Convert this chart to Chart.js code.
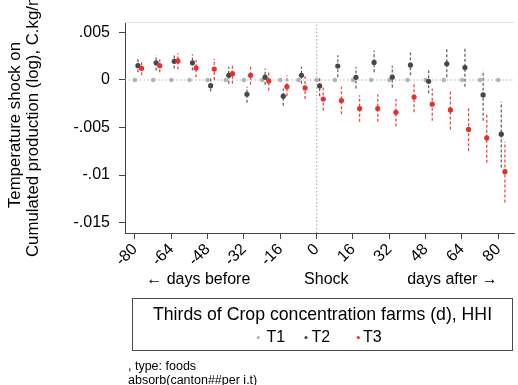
<!DOCTYPE html>
<html><head><meta charset="utf-8">
<script src="https://cdn.jsdelivr.net/npm/chart.js@4"></script>
<style>html,body{margin:0;padding:0;background:#fff;}#w{width:518px;height:385px;}</style>
</head><body><div id="w"><canvas id="c" width="518" height="385"></canvas></div>
<script>
const periods = [-80,-72,-64,-56,-48,-40,-32,-24,-16,-8,0,8,16,24,32,40,48,56,64,72,80];
const t1Coef = [0,0,0,0,0,0,0,0,0,0,0,0,0,0,0,0,0,0,0,0,0];
const t2Coef = [0.0015,0.0018,0.00196,0.0018,-0.0006,0.0005,-0.0015,0.0003,-0.0017,0.0005,-0.00063,0.00147,0.00028,0.00185,0.0003,0.00157,-0.00014,0.0017,0.0013,-0.00157,-0.0057];
const t2Lo = [0.0008,0.001,0.0012,0.001,-0.0012,-0.0004,-0.0024,-0.0005,-0.0027,-0.0004,-0.0017,0.0003,-0.0009,0.0008,-0.0008,0.0005,-0.0014,0.0003,-0.0007,-0.0043,-0.0092];
const t2Hi = [0.0022,0.0026,0.0027,0.0027,0.0002,0.0014,-0.0007,0.0012,-0.0009,0.0014,0.0003,0.0026,0.0014,0.0031,0.0015,0.0029,0.0011,0.0033,0.0034,0.001,-0.0023];
const t3Coef = [0.00123,0.0015,0.002,0.00126,0.00115,0.00066,0.0005,-0.0001,-0.0007,-0.00084,-0.002,-0.00217,-0.003,-0.003,-0.0034,-0.0018,-0.00255,-0.00315,-0.0052,-0.0061,-0.00965];
const t3Lo = [0.0005,0.0008,0.0011,0.0003,0,-0.0004,-0.0005,-0.0011,-0.0017,-0.002,-0.0032,-0.0036,-0.0044,-0.0044,-0.0049,-0.0034,-0.0043,-0.0052,-0.0075,-0.0087,-0.0129];
const t3Hi = [0.0019,0.0023,0.0028,0.0021,0.0022,0.0017,0.0016,0.001,0.0005,0.0004,-0.0007,-0.0007,-0.0016,-0.0015,-0.002,-0.0002,-0.0009,-0.0012,-0.0028,-0.0035,-0.0065];
const xTicks = [-80,-64,-48,-32,-16,0,16,32,48,64,80];
const yTicks = [0.005,0,-0.005,-0.01,-0.015];
const yTickLabels = ['.005','0','-.005','-.01','-.015'];
const seriesNames = ['T1','T2','T3'];
const legendTitle = 'Thirds of Crop concentration farms (d), HHI';
const yTitle = ['Temperature shock on','Cumulated production (log), C.kg/m'];
const xNotes = ['\u2190 days before','Shock','days after \u2192'];
const footNotes = [', type: foods','absorb(canton##per i.t)'];

const COL1='#b3b3b3', COL2='#474747', COL3='#e8302a';
const OFF2=1.3, OFF3=2.9;
const XMIN=-84.4, XMAX=86.9, YMIN=-0.0161, YMAX=0.0061;
const FONT='"Liberation Sans", Arial, Helvetica, sans-serif';

function pts(coef, off){ return periods.map((p,i)=>({x:p+off,y:coef[i]})); }
function ci(lo, hi, off){ const d=[]; periods.forEach((p,i)=>{ d.push({x:p+off,y:lo[i]}); d.push({x:p+off,y:hi[i]}); d.push({x:p+off,y:null}); }); return d; }

const deco = {
  id:'deco',
  beforeDatasetsDraw(chart){
    const {ctx, chartArea:a} = chart;
    ctx.save();
    ctx.strokeStyle='#d9e4ea'; ctx.lineWidth=1;
    ctx.beginPath(); ctx.moveTo(a.left, a.top+0.5); ctx.lineTo(a.right, a.top+0.5); ctx.stroke();
    ctx.restore();
  },
  afterDraw(chart){
    const ctx = chart.ctx;
    ctx.save();
    ctx.fillStyle='#000';
    ctx.textBaseline='middle';
    // y title
    ctx.font='16.8px '+FONT;
    ctx.save(); ctx.translate(15,125); ctx.rotate(-Math.PI/2); ctx.textAlign='center'; ctx.fillText(yTitle[0],0,0); ctx.restore();
    ctx.save(); ctx.translate(33.5,257); ctx.rotate(-Math.PI/2); ctx.textAlign='left'; ctx.fillText(yTitle[1],0,0); ctx.restore();
    // x notes
    ctx.font='16px '+FONT;
    ctx.textAlign='center';
    ctx.fillText(xNotes[0],198.3,280);
    ctx.fillText(xNotes[1],326.3,280);
    ctx.fillText(xNotes[2],452.5,280);
    // legend box
    ctx.strokeStyle='#4a4a4a'; ctx.lineWidth=1;
    ctx.strokeRect(132.5,298.5,380,52);
    ctx.font='17.7px '+FONT;
    ctx.fillText(legendTitle,322.5,315.5);
    ctx.font='16px '+FONT;
    const items=[[258.3,266.5,COL1],[306,311.5,COL2],[358.3,363,COL3]];
    items.forEach((it,i)=>{
      ctx.fillStyle=it[2]; ctx.beginPath(); ctx.arc(it[0],337.5,1.6,0,Math.PI*2); ctx.fill();
      ctx.fillStyle='#000'; ctx.textAlign='left'; ctx.fillText(seriesNames[i],it[1],337.5);
    });
    // foot notes
    ctx.font='12.5px '+FONT;
    ctx.textAlign='left';
    ctx.fillText(footNotes[0],128,367);
    ctx.fillText(footNotes[1],128,380.5);
    ctx.restore();
  }
};

new Chart(document.getElementById('c'), {
  type:'scatter',
  data:{datasets:[
    {type:'line', data:[{x:XMIN,y:0},{x:XMAX,y:0}], borderColor:'#a8a8a8', borderWidth:1.2, borderDash:[1.3,2.4], pointRadius:0, order:10},
    {type:'line', data:[{x:0,y:YMIN},{x:0,y:YMAX}], borderColor:'#a8a8a8', borderWidth:1.2, borderDash:[1.3,2.4], pointRadius:0, order:10},
    {type:'line', data:ci(t2Lo,t2Hi,OFF2), borderColor:'#666', borderWidth:1.3, borderDash:[3,2], pointRadius:0, spanGaps:false, order:8},
    {type:'line', data:ci(t3Lo,t3Hi,OFF3), borderColor:'#ec4a44', borderWidth:1.3, borderDash:[3,2], pointRadius:0, spanGaps:false, order:7},
    {label:seriesNames[0], data:pts(t1Coef,0), backgroundColor:COL1, borderColor:COL1, pointRadius:2.3, borderWidth:0, order:3},
    {label:seriesNames[1], data:pts(t2Coef,OFF2), backgroundColor:COL2, borderColor:COL2, pointRadius:2.6, borderWidth:0, order:2},
    {label:seriesNames[2], data:pts(t3Coef,OFF3), backgroundColor:COL3, borderColor:COL3, pointRadius:2.6, borderWidth:0, order:1}
  ]},
  options:{
    responsive:false, animation:false, devicePixelRatio:1,
    layout:{padding:{top:22,left:0,right:0,bottom:0}},
    plugins:{legend:{display:false}, tooltip:{enabled:false}},
    scales:{
      x:{type:'linear', min:XMIN, max:XMAX,
        afterBuildTicks(s){ s.ticks = xTicks.map(v=>({value:v})); },
        afterFit(s){ s.height=152; },
        ticks:{autoSkip:false, minRotation:45, maxRotation:45, padding:1, color:'#000', font:{family:FONT,size:16},
          callback:(v)=>String(v)},
        grid:{drawOnChartArea:false, drawTicks:true, tickLength:6, color:'#444'},
        border:{display:true, color:'#444', width:1}
      },
      y:{type:'linear', min:YMIN, max:YMAX,
        afterBuildTicks(s){ s.ticks = yTicks.map(v=>({value:v})); },
        afterFit(s){ s.width=125; },
        ticks:{padding:9, color:'#000', font:{family:FONT,size:16},
          callback:(v)=>{ const i=yTicks.findIndex(t=>Math.abs(t-v)<1e-9); return i>=0?yTickLabels[i]:''; }},
        grid:{drawOnChartArea:false, drawTicks:true, tickLength:6, color:'#444'},
        border:{display:true, color:'#444', width:1}
      }
    }
  },
  plugins:[deco]
});
</script></body></html>
